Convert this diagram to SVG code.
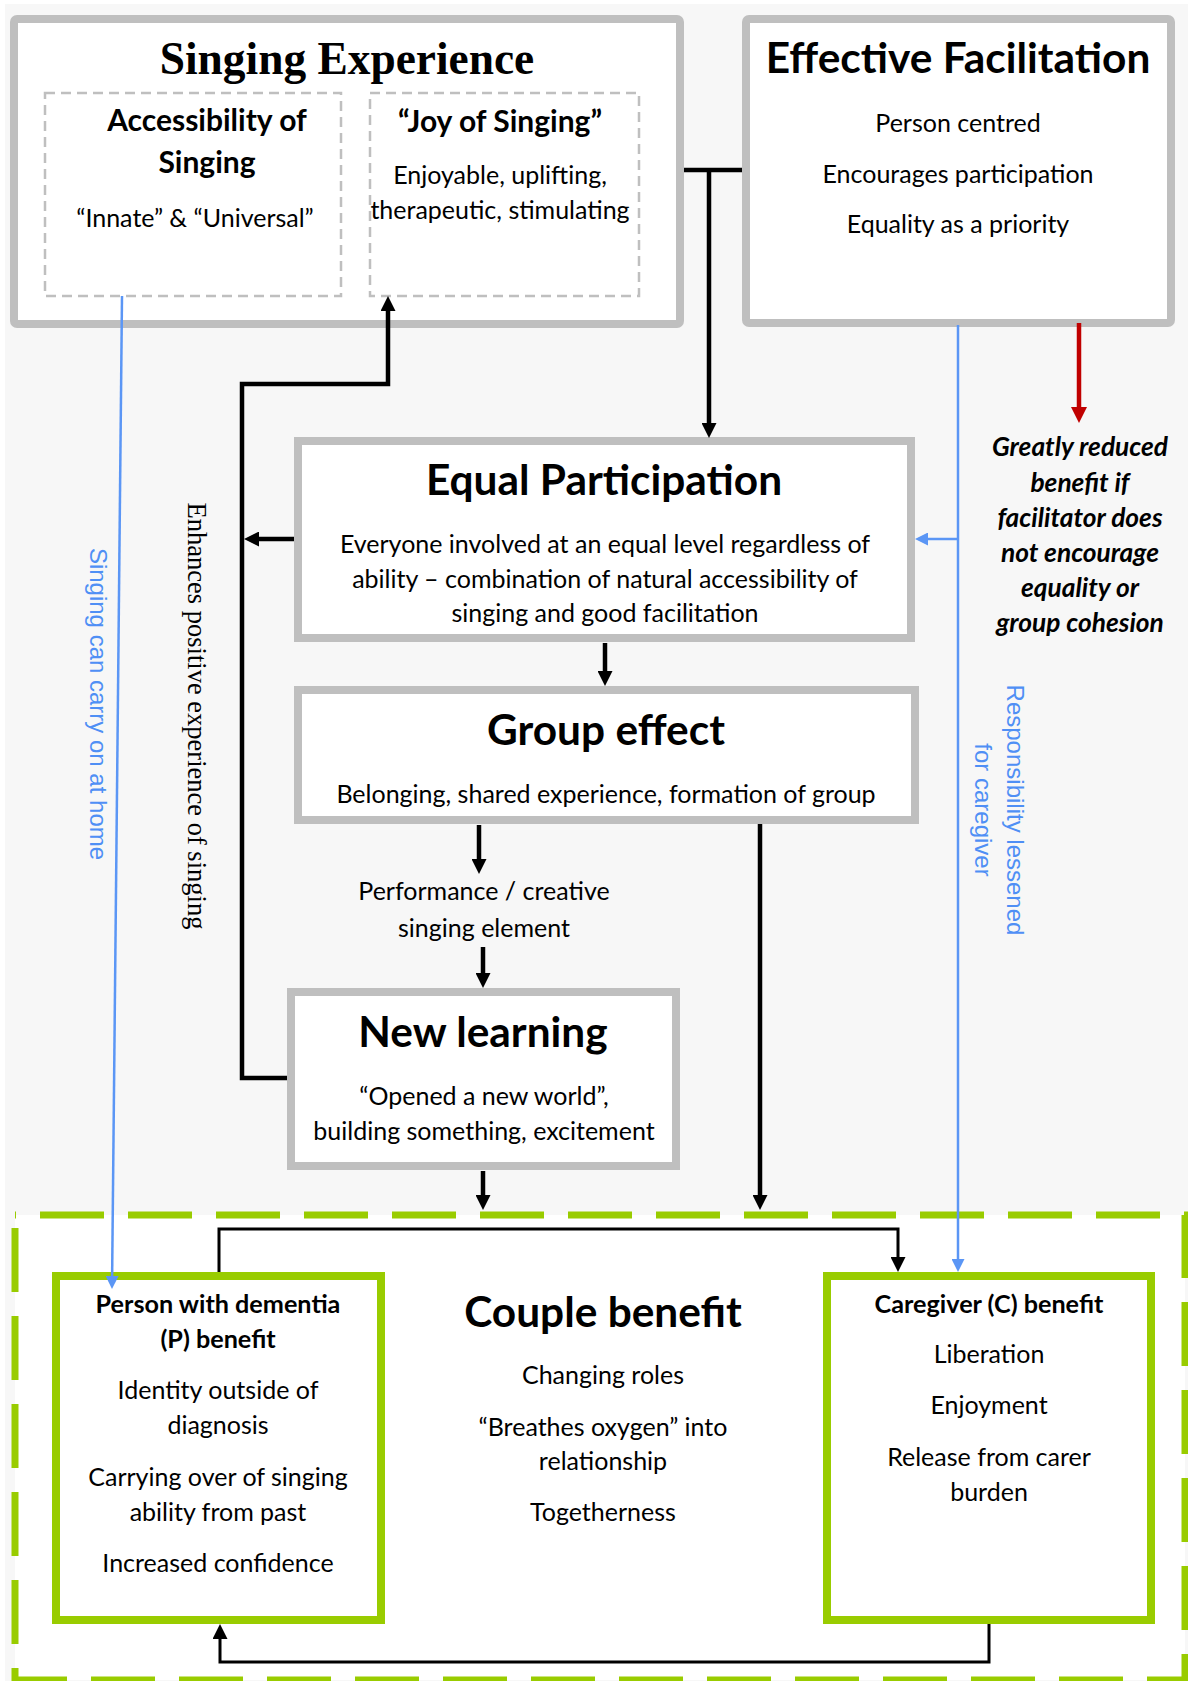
<svg xmlns="http://www.w3.org/2000/svg" width="1188" height="1681" viewBox="0 0 1188 1681">
  <defs>
    <style>
      .page { fill: #f7f7f7; }
      .box { fill: #ffffff; stroke: #bfbfbf; stroke-width: 8; }
      .sub { fill: none; stroke: #bfbfbf; stroke-width: 2.5; stroke-dasharray: 10 6; }
      .gbox { fill: #ffffff; stroke: #99cc00; stroke-width: 8; }
      .zone { fill: #ffffff; stroke: #99cc00; stroke-width: 7; stroke-dasharray: 64 24; stroke-dashoffset: 63; }
      text { font-family: Lato, "Open Sans", "DejaVu Sans", sans-serif; fill: #000000; text-anchor: middle; }
      .serif-title { font-family: "Liberation Serif", "Times New Roman", serif; font-weight: 700; font-size: 45.4px; }
      .title { font-weight: 700; font-size: 42.4px; }
      .head { font-weight: 700; font-size: 30px; }
      .small-head { font-weight: 700; font-size: 25.2px; }
      .body { font-size: 25px; }
      .warn { font-weight: 700; font-style: italic; font-size: 26.3px; }
      .note { font-family: "Liberation Serif", "Times New Roman", serif; font-size: 26.5px; }
      .blue-note { font-family: "Liberation Sans", Arial, sans-serif; font-size: 24px; fill: #4f8ff5; }
      .thick { fill: none; stroke: #000000; stroke-width: 4.5; marker-end: url(#ah); }
      .thin { fill: none; stroke: #000000; stroke-width: 3; marker-end: url(#ah); }
      .blue { fill: none; stroke: #5b96f5; stroke-width: 2.5; marker-end: url(#ahBlue); }
      .red { fill: none; stroke: #c00000; stroke-width: 4.5; marker-end: url(#ahRed); }
    </style>
    <marker id="ah" viewBox="0 0 15 15" refX="2" refY="7.5" markerWidth="15" markerHeight="15" markerUnits="userSpaceOnUse" orient="auto">
      <path d="M0,0 L15,7.5 L0,15 z" fill="#000000"/>
    </marker>
    <marker id="ahBlue" viewBox="0 0 13 13" refX="2" refY="6.5" markerWidth="13" markerHeight="13" markerUnits="userSpaceOnUse" orient="auto">
      <path d="M0,0 L13,6.5 L0,13 z" fill="#5b96f5"/>
    </marker>
    <marker id="ahRed" viewBox="0 0 16 16" refX="2" refY="8" markerWidth="16" markerHeight="16" markerUnits="userSpaceOnUse" orient="auto">
      <path d="M0,0 L16,8 L0,16 z" fill="#c00000"/>
    </marker>
  </defs>

  <!-- page background -->
  <rect class="page" x="5" y="4" width="1183" height="1677"/>

  <!-- outcome zone (dashed green) -->
  <g id="outcome-zone">
    <rect class="zone" x="15" y="1215" width="1170" height="465"/>
  </g>

  <!-- Singing Experience -->
  <g id="singing-experience">
    <rect class="box" x="14" y="19" width="666" height="305" rx="3"/>
    <text class="serif-title" x="347" y="74">Singing Experience</text>
    <g id="accessibility">
      <rect class="sub" x="45" y="93" width="296" height="203"/>
      <text class="head" x="207" y="131">Accessibility of</text>
      <text class="head" x="207" y="173">Singing</text>
      <text class="body" x="195" y="227">“Innate” &amp; “Universal”</text>
    </g>
    <g id="joy-of-singing">
      <rect class="sub" x="370" y="93" width="269" height="203"/>
      <text class="head" x="500" y="132">“Joy of Singing”</text>
      <text class="body" x="500" y="184">Enjoyable, uplifting,</text>
      <text class="body" x="500" y="219">therapeutic, stimulating</text>
    </g>
  </g>

  <!-- Effective Facilitation -->
  <g id="effective-facilitation">
    <rect class="box" x="746" y="19" width="425" height="304" rx="3"/>
    <text class="title" x="958" y="73">Effective Facilitation</text>
    <text class="body" x="958" y="132">Person centred</text>
    <text class="body" x="958" y="183">Encourages participation</text>
    <text class="body" x="958" y="233">Equality as a priority</text>
  </g>

  <!-- Equal Participation -->
  <g id="equal-participation">
    <rect class="box" x="298" y="441" width="613" height="197"/>
    <text class="title" x="604" y="495">Equal Participation</text>
    <text class="body" x="605" y="553">Everyone involved at an equal level regardless of</text>
    <text class="body" x="605" y="588">ability – combination of natural accessibility of</text>
    <text class="body" x="605" y="622">singing and good facilitation</text>
  </g>

  <!-- Group effect -->
  <g id="group-effect">
    <rect class="box" x="298" y="690" width="617" height="130"/>
    <text class="title" x="606" y="745">Group effect</text>
    <text class="body" x="606" y="803">Belonging, shared experience, formation of group</text>
  </g>

  <!-- Performance element -->
  <g id="performance">
    <text class="body" x="484" y="900">Performance / creative</text>
    <text class="body" x="484" y="937">singing element</text>
  </g>

  <!-- New learning -->
  <g id="new-learning">
    <rect class="box" x="291" y="992" width="385" height="174"/>
    <text class="title" x="483" y="1047">New learning</text>
    <text class="body" x="484" y="1105">“Opened a new world”,</text>
    <text class="body" x="484" y="1140">building something, excitement</text>
  </g>

  <!-- Warning note -->
  <g id="reduced-benefit">
    <text class="warn" x="1080" y="456">Greatly reduced</text>
    <text class="warn" x="1080" y="492">benefit if</text>
    <text class="warn" x="1080" y="527">facilitator does</text>
    <text class="warn" x="1080" y="562">not encourage</text>
    <text class="warn" x="1080" y="597">equality or</text>
    <text class="warn" x="1080" y="632">group cohesion</text>
  </g>

  <!-- Couple benefit -->
  <g id="couple-benefit">
    <text class="title" x="603" y="1327">Couple benefit</text>
    <text class="body" x="603" y="1384">Changing roles</text>
    <text class="body" x="603" y="1436">“Breathes oxygen” into</text>
    <text class="body" x="603" y="1470">relationship</text>
    <text class="body" x="603" y="1521">Togetherness</text>
  </g>

  <!-- Person with dementia benefit -->
  <g id="person-benefit">
    <rect class="gbox" x="56" y="1276" width="325" height="344"/>
    <text class="small-head" x="218" y="1313">Person with dementia</text>
    <text class="small-head" x="218" y="1348">(P) benefit</text>
    <text class="body" x="218" y="1399">Identity outside of</text>
    <text class="body" x="218" y="1434">diagnosis</text>
    <text class="body" x="218" y="1486">Carrying over of singing</text>
    <text class="body" x="218" y="1521">ability from past</text>
    <text class="body" x="218" y="1572">Increased confidence</text>
  </g>

  <!-- Caregiver benefit -->
  <g id="caregiver-benefit">
    <rect class="gbox" x="827" y="1276" width="324" height="344"/>
    <text class="small-head" x="989" y="1313">Caregiver (C) benefit</text>
    <text class="body" x="989" y="1363">Liberation</text>
    <text class="body" x="989" y="1414">Enjoyment</text>
    <text class="body" x="989" y="1466">Release from carer</text>
    <text class="body" x="989" y="1501">burden</text>
  </g>

  <!-- connectors -->
  <g id="connectors">
    <path d="M684,170 H742" fill="none" stroke="#000" stroke-width="4.5"/>
    <path class="thick" d="M709,170 V425"/>
    <path class="thick" d="M287,1078 H242 V384 H388 V309"/>
    <path class="thick" d="M294,539 H257"/>
    <path class="thick" d="M605,643 V673"/>
    <path class="thick" d="M479,825 V861"/>
    <path class="thick" d="M483,947 V975"/>
    <path class="thick" d="M483,1171 V1197"/>
    <path class="thick" d="M760,824 V1197"/>
    <path class="thin" d="M219,1272 V1229 H898 V1259"/>
    <path class="thin" d="M989,1624 V1662 H220 V1637"/>
    <path class="blue" d="M122,296 L112.1,1278"/>
    <path class="blue" d="M958,325 V1261"/>
    <path class="blue" d="M958,539 H926"/>
    <path class="red" d="M1079,323 V409"/>
    <text class="note" transform="translate(188,716) rotate(90)">Enhances positive experience of singing</text>
    <text class="blue-note" transform="translate(90,704) rotate(90)">Singing can carry on at home</text>
    <text class="blue-note" transform="translate(1007,810) rotate(90)">Responsibility lessened</text>
    <text class="blue-note" transform="translate(975,810) rotate(90)">for caregiver</text>
  </g>
</svg>
